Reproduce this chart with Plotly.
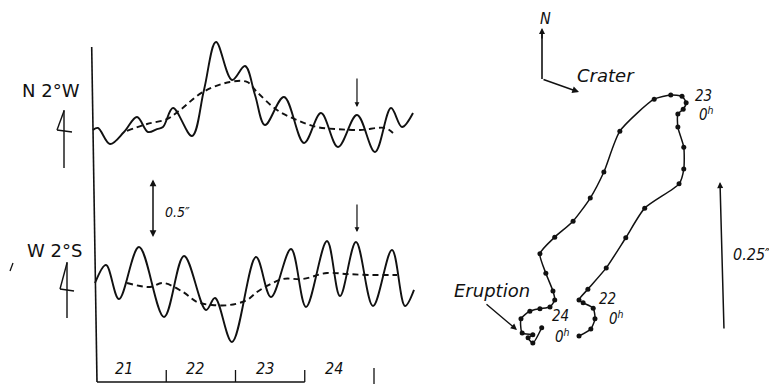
import plotly.graph_objects as go

# ---------------------------------------------------------------
# Tilt records (hours after 21d 0h, tilt in arcsec)
# ---------------------------------------------------------------
# N 2°W component: raw record and smoothed mean
n_hours = [-1.39, 0.35, 4.51, 9.36, 13.86, 17.68, 20.79, 22.87, 26.34, 32.92,
           37.08, 41.24, 46.79, 51.29, 54.76, 58.22, 64.81, 71.74, 77.63, 83.52,
           90.11, 96.35, 101.89, 105.70, 109.52]
n_tilt = [0.000, 0.017, -0.119, -0.017, 0.110, -0.017, 0.008, 0.025, 0.186, -0.051,
          0.339, 0.746, 0.424, 0.542, 0.297, 0.042, 0.280, -0.110, 0.144, -0.144,
          0.127, -0.186, 0.186, 0.025, 0.144]
n_mean_hours = [10.40, 17.33, 24.26, 28.77, 36.74, 46.09, 51.99, 55.45, 62.38,
                69.31, 76.25, 83.18, 91.15, 99.81, 102.58]
n_mean_tilt = [-0.008, 0.051, 0.093, 0.169, 0.322, 0.407, 0.407, 0.322, 0.169,
               0.085, 0.025, 0.008, 0.000, 0.017, -0.025]

# W 2°S component: raw record and smoothed mean
w_hours = [-0.69, 3.12, 7.62, 14.56, 23.22, 30.16, 37.78, 40.90, 46.79, 55.11,
           60.30, 67.23, 72.43, 79.71, 84.21, 89.76, 95.65, 102.23, 106.74, 109.86]
w_tilt = [0.000, 0.153, -0.136, 0.305, -0.288, 0.229, -0.229, -0.127, -0.500, 0.220,
          -0.119, 0.288, -0.203, 0.356, -0.110, 0.347, -0.195, 0.280, -0.195, -0.059]
w_mean_hours = [10.40, 18.37, 22.87, 29.80, 34.66, 39.86, 46.09, 51.99, 55.45,
                58.92, 64.46, 71.39, 79.71, 86.64, 94.61, 103.97]
w_mean_tilt = [0.000, -0.034, 0.000, -0.076, -0.161, -0.186, -0.186, -0.144, -0.076,
               -0.025, 0.034, 0.034, 0.085, 0.076, 0.068, 0.068]

day_labels = ["21", "22", "23", "24"]
day_hours = [0, 24, 48, 72, 96]
event_hour = 90.1          # marked instant on both records

# ---------------------------------------------------------------
# Tilt vector path (arcsec, east / north components)
# ---------------------------------------------------------------
path_ew = [0.000, 0.020, 0.027, 0.024, 0.007, 0.000, 0.015, 0.046, 0.079, 0.111,
           0.169, 0.177, 0.177, 0.167, 0.167, 0.176, 0.181, 0.174, 0.155, 0.127,
           0.069, 0.042, 0.019, -0.010, -0.041, -0.066, -0.056, -0.044, -0.041,
           -0.049, -0.066, -0.083, -0.098, -0.096, -0.078, -0.086, -0.078, -0.063]
path_ns = [0.000, 0.012, 0.029, 0.047, 0.056, 0.061, 0.079, 0.115, 0.166, 0.216,
           0.257, 0.282, 0.319, 0.353, 0.375, 0.383, 0.394, 0.405, 0.407, 0.400,
           0.346, 0.277, 0.233, 0.194, 0.167, 0.139, 0.106, 0.076, 0.061,
           0.049, 0.046, 0.042, 0.029, 0.005, 0.002, -0.003, -0.012, 0.014]

# ---------------------------------------------------------------
# Layout geometry
# ---------------------------------------------------------------
W, H = 769, 384
T0_PX, PX_PER_HOUR = 97.0, 69.25 / 24.0       # time axis
REC_SCALE = 118.0                               # px per arcsec, records
N_BASE, W_BASE = 130.0, 283.0                   # record baselines (px from top)
VEC_SCALE = 592.0                               # px per arcsec, vector path
VEC_X0, VEC_Y0 = 579.0, 336.0                   # path origin (px)

INK = "#111111"
FONT_UP = "DejaVu Sans"
FONT_IT = "DejaVu Sans Condensed, Liberation Sans Narrow, DejaVu Sans"


def P(x, y):
    """pixel position -> paper coordinates"""
    return x / W, 1 - y / H


fig = go.Figure()

rec_line = dict(color=INK, width=1.9, shape="spline", smoothing=1.0)
mean_line = dict(color=INK, width=1.9, dash="6px,4px", shape="spline", smoothing=1.0)

fig.add_trace(go.Scatter(x=n_hours, y=n_tilt, mode="lines", line=rec_line,
                         xaxis="x", yaxis="y"))
fig.add_trace(go.Scatter(x=n_mean_hours, y=n_mean_tilt, mode="lines", line=mean_line,
                         xaxis="x", yaxis="y"))
fig.add_trace(go.Scatter(x=w_hours, y=w_tilt, mode="lines", line=rec_line,
                         xaxis="x", yaxis="y2"))
fig.add_trace(go.Scatter(x=w_mean_hours, y=w_mean_tilt, mode="lines", line=mean_line,
                         xaxis="x", yaxis="y2"))

fig.add_trace(go.Scatter(x=path_ew, y=path_ns, mode="lines+markers",
                         line=dict(color=INK, width=1.5, shape="spline", smoothing=0.6),
                         marker=dict(color=INK, size=5),
                         xaxis="x2", yaxis="y3"))

hidden = dict(visible=False, showgrid=False, zeroline=False, domain=[0, 1])
layout = dict(
    width=W, height=H, autosize=False,
    margin=dict(l=0, r=0, t=0, b=0, pad=0),
    paper_bgcolor="white", plot_bgcolor="white", showlegend=False,
    xaxis=dict(hidden, range=[-T0_PX / PX_PER_HOUR, (W - T0_PX) / PX_PER_HOUR]),
    yaxis=dict(hidden, range=[(N_BASE - H) / REC_SCALE, N_BASE / REC_SCALE]),
    yaxis2=dict(hidden, overlaying="y",
                range=[(W_BASE - H) / REC_SCALE, W_BASE / REC_SCALE]),
    xaxis2=dict(hidden, overlaying="x",
                range=[-VEC_X0 / VEC_SCALE, (W - VEC_X0) / VEC_SCALE]),
    yaxis3=dict(hidden, overlaying="y",
                range=[(VEC_Y0 - H) / VEC_SCALE, VEC_Y0 / VEC_SCALE]),
)
fig.update_layout(**layout)

shapes = []


def seg(x0, y0, x1, y1, w=1.5):
    a, b = P(x0, y0)
    c, d = P(x1, y1)
    shapes.append(dict(type="line", xref="paper", yref="paper", x0=a, y0=b, x1=c, y1=d,
                       line=dict(color=INK, width=w)))


# record frame: vertical line and time axis
seg(91.7, 47, 97, 382, 1.6)
x_ticks = [T0_PX + h * PX_PER_HOUR for h in day_hours]
seg(x_ticks[0], 382, x_ticks[3], 382, 1.6)
for i, xt in enumerate(x_ticks[1:]):
    seg(xt, 370 if i < 3 else 368, xt, 382 if i < 3 else 384, 1.3)

# north-pointer glyphs beside component names
seg(64, 110, 64, 168, 1.4)
seg(64, 111, 57, 130, 1.4)
seg(57, 130, 72, 132, 1.4)
seg(67, 262, 67, 318, 1.4)
seg(67, 263, 60, 289, 1.4)
seg(60, 289, 74, 291, 1.4)
seg(13, 263, 10, 271, 1.3)

# compass lines near the vector path
seg(542, 32, 542, 79, 1.6)

fig.update_layout(shapes=shapes)

ann = []


def text(x, y, s, size, family=FONT_IT, italic=True):
    a, b = P(x, y)
    ann.append(dict(xref="paper", yref="paper", x=a, y=b, text=f"<i>{s}</i>" if italic else s,
                    showarrow=False, xanchor="center", yanchor="middle",
                    font=dict(family=family, size=size, color=INK)))


def arrow_px(hx, hy, tx, ty, head=2, size=1.0, w=1.4, side="end"):
    a, b = P(hx, hy)
    ann.append(dict(xref="paper", yref="paper", x=a, y=b, ax=tx - hx, ay=ty - hy,
                    axref="pixel", ayref="pixel", text="", showarrow=True,
                    arrowhead=head, arrowsize=size, arrowwidth=w, arrowcolor=INK,
                    arrowside=side, standoff=0, startstandoff=0))


def arrow_data(xr, yr, hx, hy, tx, ty, head=2, size=1.0, w=1.4, side="end"):
    ann.append(dict(xref=xr, yref=yr, x=hx, y=hy, ax=tx, ay=ty, axref=xr, ayref=yr,
                    text="", showarrow=True, arrowhead=head, arrowsize=size,
                    arrowwidth=w, arrowcolor=INK, arrowside=side,
                    standoff=0, startstandoff=0))


# component names
text(51, 90, "N 2°W", 18, FONT_UP, italic=False)
text(54, 250, "W 2°S", 18, FONT_UP, italic=False)

# day labels
label_px = [124, 195, 265, 334]
for s, xp in zip(day_labels, label_px):
    text(xp, 368.5, s, 16)

# 0.5" scale bar on the record axis
bar_h = (153 - T0_PX) / PX_PER_HOUR
arrow_data("x", "y", bar_h, -0.907, bar_h, -0.407, head=2, size=0.9, w=1.5, side="end+start")
text(177, 212, "0.5″", 14)

# event markers on both records
arrow_data("x", "y", event_hour, (N_BASE - 107) / REC_SCALE, event_hour,
           (N_BASE - 77) / REC_SCALE, head=2, size=0.8, w=1.2)
arrow_data("x", "y2", event_hour, (W_BASE - 232) / REC_SCALE, event_hour,
           (W_BASE - 203) / REC_SCALE, head=2, size=0.8, w=1.2)

# vector-path annotations
text(545, 18, "N", 16)
arrow_px(542, 28, 542, 40, head=2, size=0.8, w=1.5)
arrow_px(579, 92, 542, 79, head=2, size=0.9, w=1.5)
text(606, 76, "Crater", 18, FONT_UP)

text(703, 96, "23", 15)
text(706, 114, "0<sup>h</sup>", 15)
text(607, 299, "22", 15)
text(616, 318, "0<sup>h</sup>", 15)
text(560, 316, "24", 15)
text(562, 336, "0<sup>h</sup>", 15)

text(492, 290, "Eruption", 18, FONT_UP)
arrow_px(517, 330, 485, 303, head=2, size=0.9, w=1.4)

# 0.25" scale bar for the vector path
arrow_data("x2", "y3", (720 - VEC_X0) / VEC_SCALE, 0.26, (724 - VEC_X0) / VEC_SCALE, 0.01,
           head=2, size=0.8, w=1.5)
text(752, 254, "0.25″", 16)

fig.update_layout(annotations=ann)

fig.write_html("out.html")
